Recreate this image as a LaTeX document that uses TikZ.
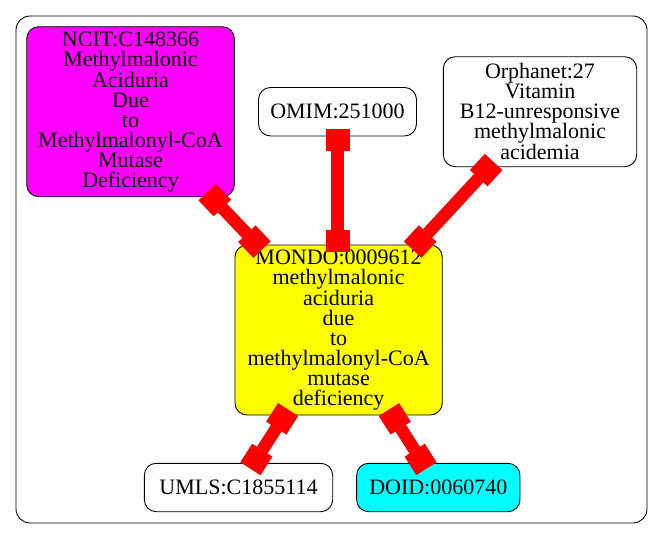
\documentclass[tikz,border=0pt]{standalone}
\usepackage{fontspec}
\setmainfont{Liberation Serif}
\usetikzlibrary{arrows.meta}
\definecolor{ncitcolor}{RGB}{255,0,255}
\definecolor{mondocolor}{RGB}{255,255,0}
\definecolor{doidcolor}{RGB}{0,255,255}
\definecolor{linkcolor}{RGB}{255,0,0}

\begin{document}
\begin{tikzpicture}[x=1pt, y=-1pt,
  term/.style={draw, line width=0.9pt, rounded corners=12pt, inner sep=0pt, align=center,
    font=\fontsize{22}{20}\selectfont},
  link/.style={linkcolor, line width=12.5pt,
    {Rectangle[length=22pt,width=24pt,line width=0pt]}-{Rectangle[length=22pt,width=24pt,line width=0pt]},
    shorten <=-7pt, shorten >=-7pt}]
  \useasboundingbox (0,0) rectangle (664,539);
  \draw[line width=0.9pt, rounded corners=14pt] (16,16) rectangle (647,523);
  \node[term, fill=ncitcolor, minimum width=207.6pt, minimum height=170pt] (ncit) at (130.5,111.7)
    {NCIT:C148366\\Methylmalonic\\Aciduria\\Due\\to\\Methylmalonyl-CoA\\Mutase\\Deficiency};
  \node[term, minimum width=158pt, minimum height=48.5pt] (omim) at (337.5,111.7) {OMIM:251000};
  \node[term, minimum width=193.4pt, minimum height=110pt] (orpha) at (540,111.7)
    {Orphanet:27\\Vitamin\\B12-unresponsive\\methylmalonic\\acidemia};
  \node[term, fill=mondocolor, minimum width=207.3pt, minimum height=170pt] (mondo) at (338.6,330)
    {MONDO:0009612\\methylmalonic\\aciduria\\due\\to\\methylmalonyl-CoA\\mutase\\deficiency};
  \node[term, minimum width=188.4pt, minimum height=48.4pt] (umls) at (238.5,487.5) {UMLS:C1855114};
  \node[term, fill=doidcolor, minimum width=163.3pt, minimum height=48.4pt] (doid) at (438.3,487.5) {DOID:0060740};
  \draw[link] (ncit) -- (mondo);
  \draw[link] (omim.south) -- (omim.south |- mondo.north);
  \draw[link] (orpha) -- (mondo);
  \draw[link] (mondo) -- (umls);
  \draw[link] (mondo) -- (doid);
\end{tikzpicture}
\end{document}
